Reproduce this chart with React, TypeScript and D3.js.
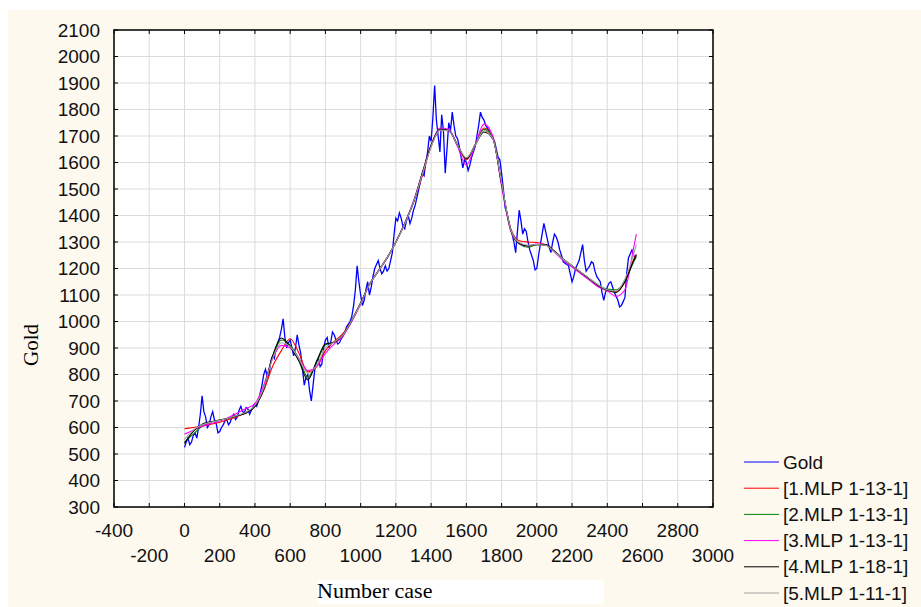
import React from "react";
import * as d3 from "d3";

// Gold price, sampled every 10 cases
const goldCases = d3.range(0, 2561, 10);
const goldValues = [
  525, 545, 560, 535, 545, 570, 580, 560, 600, 650, 720, 660, 640, 600, 610, 640, 660, 630, 615, 580,
  585, 600, 610, 625, 630, 610, 620, 640, 650, 630, 640, 665, 680, 660, 655, 675, 670, 650, 665, 680,
  690, 680, 700, 730, 760, 800, 820, 790, 800, 850, 870, 860, 900, 920, 940, 970, 1010, 940, 900, 920,
  930, 900, 870, 900, 950, 910, 880, 820, 760, 790, 800, 740, 700, 760, 820, 850, 860, 830, 840, 900,
  930, 940, 900, 920, 960, 950, 930, 915, 920, 935, 945, 960, 980, 990, 1000, 1020, 1060, 1120, 1210, 1150,
  1100, 1060, 1080, 1120, 1150, 1100, 1130, 1170, 1200, 1215, 1230, 1200, 1180, 1190, 1210, 1190, 1200, 1230, 1260, 1330,
  1390, 1380, 1410, 1390, 1360, 1350, 1380, 1400, 1370, 1390, 1420, 1440, 1470, 1500, 1530, 1560, 1550, 1600, 1640, 1700,
  1680, 1770, 1890, 1760, 1700, 1640, 1780, 1720, 1560, 1650, 1750, 1720, 1790, 1740, 1700, 1690, 1660, 1620, 1580, 1610,
  1600, 1570, 1590, 1620, 1640, 1660, 1700, 1740, 1790, 1770, 1760, 1740, 1730, 1720, 1700, 1690, 1680, 1650, 1620, 1610,
  1560, 1500, 1430, 1410, 1380, 1350, 1330, 1300, 1260, 1340, 1420, 1380, 1330, 1350, 1340, 1300, 1270, 1250, 1230, 1195,
  1200, 1250, 1290, 1330, 1370, 1340, 1310, 1280, 1260, 1300, 1330, 1320, 1300, 1270, 1250, 1225, 1220, 1215, 1210, 1180,
  1150, 1170, 1200, 1215, 1230, 1260, 1290, 1230, 1190, 1200, 1210, 1225, 1220, 1190, 1170, 1160, 1150, 1110, 1080, 1110,
  1130, 1145, 1150, 1130, 1110, 1095, 1080, 1055, 1060, 1075, 1090, 1180, 1240, 1255, 1270, 1250, 1235,
];

// network outputs, sampled every 50 cases
const modelCases = [...d3.range(0, 2551, 50), 2565];
const mlp1 = [
  595, 600, 605, 612, 620, 630, 642, 656, 680, 740, 830, 890, 935, 880, 810, 830, 890, 925, 955, 1005,
  1070, 1140, 1190, 1240, 1300, 1370, 1450, 1550, 1660, 1722, 1722, 1665, 1610, 1665, 1730, 1695, 1520, 1355, 1305, 1300,
  1298, 1290, 1265, 1235, 1210, 1185, 1160, 1135, 1118, 1112, 1150, 1235, 1255,
];
const mlp2 = [
  545, 575, 605, 620, 628, 635, 645, 656, 682, 748, 865, 930, 910, 860, 790, 845, 912, 922, 950, 1005,
  1070, 1140, 1190, 1240, 1300, 1370, 1450, 1560, 1665, 1725, 1722, 1665, 1615, 1668, 1725, 1692, 1520, 1350, 1292, 1280,
  1290, 1288, 1265, 1235, 1210, 1185, 1160, 1137, 1122, 1120, 1152, 1225, 1245,
];
const mlp3 = [
  575, 590, 605, 615, 625, 638, 655, 672, 690, 760, 860, 910, 900, 860, 815, 830, 880, 915, 945, 1000,
  1065, 1140, 1190, 1240, 1300, 1370, 1455, 1560, 1665, 1730, 1725, 1660, 1590, 1665, 1745, 1700, 1510, 1345, 1295, 1285,
  1292, 1290, 1262, 1230, 1205, 1180, 1155, 1130, 1115, 1095, 1120, 1280, 1330,
];
const mlp4 = [
  540, 585, 612, 622, 628, 635, 645, 655, 680, 745, 870, 938, 905, 850, 780, 850, 915, 922, 950, 1005,
  1070, 1140, 1190, 1240, 1300, 1370, 1450, 1560, 1665, 1725, 1720, 1665, 1615, 1665, 1715, 1690, 1520, 1350, 1295, 1285,
  1290, 1290, 1265, 1235, 1210, 1185, 1160, 1135, 1118, 1110, 1150, 1230, 1250,
];
const mlp5 = [
  555, 590, 610, 620, 627, 635, 646, 658, 684, 750, 860, 920, 905, 860, 805, 835, 900, 922, 950, 1005,
  1068, 1140, 1190, 1240, 1300, 1368, 1450, 1555, 1660, 1722, 1720, 1665, 1618, 1665, 1720, 1690, 1525, 1352, 1298, 1288,
  1290, 1288, 1263, 1235, 1210, 1186, 1162, 1138, 1120, 1115, 1160, 1255, 1290,
];

const xTicks = d3.range(-400, 3001, 200);
const yTicks = d3.range(300, 2101, 100);

const legendNames = ["Gold", "[1.MLP 1-13-1]", "[2.MLP 1-13-1]", "[3.MLP 1-13-1]", "[4.MLP 1-18-1]", "[5.MLP 1-11-1]"];
const legendColors = ["#0000ff", "#ff0000", "#008000", "#ff00ff", "#000000", "#a0a0a0"];

const W = 921;
const H = 607;
const plot = { left: 114, right: 713, top: 30, bottom: 507 };

export default function App() {
  const x = d3.scaleLinear().domain([-400, 3000]).range([plot.left, plot.right]);
  const y = d3.scaleLinear().domain([300, 2100]).range([plot.bottom, plot.top]);

  const goldLine = d3
    .line<number>()
    .x((_, i) => x(goldCases[i]))
    .y((d) => y(d));
  const modelLine = d3
    .line<number>()
    .x((_, i) => x(modelCases[i]))
    .y((d) => y(d))
    .curve(d3.curveMonotoneX);

  const models = [mlp1, mlp2, mlp3, mlp4, mlp5];
  const font = "'Liberation Sans', Arial, sans-serif";
  const serif = "'Liberation Serif', 'Times New Roman', serif";

  return (
    <svg
      width={W}
      height={H}
      viewBox={`0 0 ${W} ${H}`}
      style={{ position: "absolute", top: 0, left: 0, background: "#ffffff" }}
    >
      <rect x={8} y={10} width={W - 8} height={H - 10} fill="#fef9ef" />
      <rect
        x={plot.left}
        y={plot.top}
        width={plot.right - plot.left}
        height={plot.bottom - plot.top}
        fill="#ffffff"
      />

      {/* grid */}
      <g stroke="#dcdcdc" strokeWidth={1}>
        {xTicks.map((t) => (
          <line key={`gx-${t}`} x1={x(t)} x2={x(t)} y1={plot.top} y2={plot.bottom} />
        ))}
        {yTicks.map((t) => (
          <line key={`gy-${t}`} x1={plot.left} x2={plot.right} y1={y(t)} y2={y(t)} />
        ))}
      </g>

      {/* inner ticks on all four sides */}
      <g stroke="#000" strokeWidth={1}>
        {xTicks.map((t) => (
          <g key={`tx-${t}`}>
            <line x1={x(t)} x2={x(t)} y1={plot.top} y2={plot.top + 4} />
            <line x1={x(t)} x2={x(t)} y1={plot.bottom} y2={plot.bottom - 4} />
          </g>
        ))}
        {yTicks.map((t) => (
          <g key={`ty-${t}`}>
            <line x1={plot.left} x2={plot.left + 4} y1={y(t)} y2={y(t)} />
            <line x1={plot.right} x2={plot.right - 4} y1={y(t)} y2={y(t)} />
          </g>
        ))}
      </g>

      {/* series */}
      <g fill="none">
        <path d={goldLine(goldValues) ?? ""} stroke={legendColors[0]} strokeWidth={1.3} />
        {models.map((m, i) => (
          <path key={`m-${i}`} d={modelLine(m) ?? ""} stroke={legendColors[i + 1]} strokeWidth={1.1} />
        ))}
      </g>

      <rect
        x={plot.left}
        y={plot.top}
        width={plot.right - plot.left}
        height={plot.bottom - plot.top}
        fill="none"
        stroke="#000"
        strokeWidth={1.5}
      />

      {/* tick labels */}
      <g fontFamily={font} fontSize={19} fill="#111">
        {yTicks.map((t) => (
          <text key={`ly-${t}`} x={100} y={y(t)} textAnchor="end" dominantBaseline="central">
            {t}
          </text>
        ))}
        {xTicks.map((t, i) => (
          <text key={`lx-${t}`} x={x(t)} y={i % 2 === 0 ? 537 : 562} textAnchor="middle">
            {t}
          </text>
        ))}
      </g>

      {/* axis titles */}
      <rect x={317} y={580} width={287} height={24} fill="#ffffff" />
      <text x={317} y={598} fontFamily={serif} fontSize={22} fill="#000">
        Number case
      </text>
      <text
        transform="translate(38,345) rotate(-90)"
        textAnchor="middle"
        fontFamily={serif}
        fontSize={21}
        fill="#000"
      >
        Gold
      </text>

      {/* legend */}
      <g fontFamily={font} fontSize={19} fill="#111">
        {legendNames.map((name, i) => {
          const cy = 462 + i * 26.2;
          return (
            <g key={name}>
              <line x1={744} x2={779} y1={cy} y2={cy} stroke={legendColors[i]} strokeWidth={1} />
              <text x={783} y={cy} dominantBaseline="central">
                {name}
              </text>
            </g>
          );
        })}
      </g>
    </svg>
  );
}
